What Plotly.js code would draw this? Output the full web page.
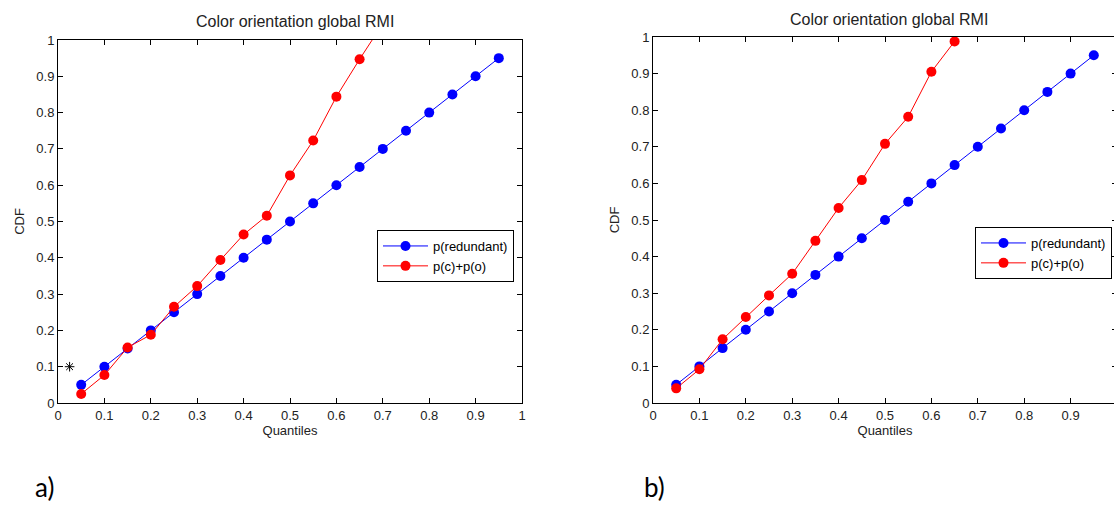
<!DOCTYPE html>
<html>
<head>
<meta charset="utf-8">
<script src="https://cdn.plot.ly/plotly-3.0.1.min.js"></script>
<style>
html,body{margin:0;padding:0;overflow:hidden;background:#fff;width:1114px;height:505px;}
#chart{width:1118px;height:505px;}
</style>
</head>
<body>
<div id="chart"></div>
<script>
// Quantiles
const quantiles = [0.05,0.1,0.15,0.2,0.25,0.3,0.35,0.4,0.45,0.5,0.55,0.6,0.65,0.7,0.75,0.8,0.85,0.9,0.95];
// p(redundant) for both panels
const redundantA = [0.05,0.1,0.15,0.2,0.25,0.3,0.35,0.4,0.45,0.5,0.55,0.6,0.65,0.7,0.75,0.8,0.85,0.9,0.95];
const redundantB = [0.05,0.1,0.15,0.2,0.25,0.3,0.35,0.4,0.45,0.5,0.55,0.6,0.65,0.7,0.75,0.8,0.85,0.9,0.95];
// p(c)+p(o)
const coQuantA = [0.05,0.1,0.15,0.2,0.25,0.3,0.35,0.4,0.45,0.5,0.55,0.6,0.65,0.7];
const coA = [0.025,0.077,0.153,0.188,0.265,0.322,0.394,0.464,0.516,0.627,0.723,0.844,0.947,1.045];
const coQuantB = [0.05,0.1,0.15,0.2,0.25,0.3,0.35,0.4,0.45,0.5,0.55,0.6,0.65];
const coB = [0.04,0.092,0.174,0.235,0.294,0.353,0.443,0.533,0.609,0.708,0.782,0.905,0.988];
// stray star marker in panel a
const starX = [0.025];
const starY = [0.1];
const tickVals = [0,0.1,0.2,0.3,0.4,0.5,0.6,0.7,0.8,0.9,1];
const tickText = ['0','0.1','0.2','0.3','0.4','0.5','0.6','0.7','0.8','0.9','1'];

const W = 1118, H = 505;
const FONT = 'Liberation Sans, Arial, sans-serif';
const BLUE = '#0000ff', RED = '#ff0000';

function tr(x, y, color, name, xa, ya, leg, showleg){
  return {x:x, y:y, type:'scatter', mode:'lines+markers', name:name,
    xaxis:xa, yaxis:ya, legend:leg, showlegend:showleg,
    line:{color:color, width:1},
    marker:{color:color, size:10, symbol:'circle'}};
}

const data = [
  tr(quantiles, redundantA, BLUE, 'p(redundant)', 'x', 'y', 'legend', true),
  tr(coQuantA, coA, RED, 'p(c)+p(o)', 'x', 'y', 'legend', true),
  {x:starX, y:starY, type:'scatter', mode:'markers', xaxis:'x', yaxis:'y', showlegend:false,
   marker:{symbol:'asterisk-open', size:8, color:'#000', line:{color:'#000', width:1}}},
  tr(quantiles, redundantB, BLUE, 'p(redundant)', 'x2', 'y2', 'legend2', true),
  tr(coQuantB, coB, RED, 'p(c)+p(o)', 'x2', 'y2', 'legend2', true)
];

function xax(dom, anchor){
  return {domain:dom, anchor:anchor, range:[0,1], tickvals:tickVals, ticktext:tickText,
    ticks:'inside', ticklen:5, tickcolor:'#000', showline:true, linecolor:'#000', linewidth:1,
    mirror:'ticks', showgrid:false, zeroline:false, tickfont:{family:FONT, size:13, color:'#222'},
    title:{text:'Quantiles', font:{family:FONT, size:13, color:'#222'}, standoff:3}, fixedrange:true};
}
function yax(dom, anchor){
  return {domain:dom, anchor:anchor, range:[0,1], tickvals:tickVals, ticktext:tickText,
    ticks:'inside', ticklen:5, tickcolor:'#000', showline:true, linecolor:'#000', linewidth:1,
    mirror:'ticks', showgrid:false, zeroline:false, tickfont:{family:FONT, size:13, color:'#222'},
    title:{text:'CDF', font:{family:FONT, size:13, color:'#222'}, standoff:8}, fixedrange:true};
}

const layout = {
  width:W, height:H, margin:{l:0,r:0,t:0,b:0}, paper_bgcolor:'#fff', plot_bgcolor:'#fff',
  font:{family:FONT, size:13, color:'#222'},
  xaxis: xax([58/W, 522/W], 'y'),
  yaxis: yax([1-403/H, 1-40/H], 'x'),
  xaxis2: xax([653/W, 1117/W], 'y2'),
  yaxis2: yax([1-403/H, 1-37/H], 'x2'),
  legend:{x:514/W, xanchor:'right', y:1-230/H, yanchor:'top', bgcolor:'#fff',
    bordercolor:'#000', borderwidth:1, font:{family:FONT, size:13, color:'#000'},
    tracegroupgap:0, itemclick:false, itemwidth:45},
  legend2:{x:1112/W, xanchor:'right', y:1-227/H, yanchor:'top', bgcolor:'#fff',
    bordercolor:'#000', borderwidth:1, font:{family:FONT, size:13, color:'#000'},
    tracegroupgap:0, itemclick:false, itemwidth:45},
  annotations:[
    {text:'Color orientation global RMI', xref:'paper', yref:'paper', x:295/W, y:1-21/H,
     xanchor:'center', yanchor:'middle', showarrow:false, font:{family:FONT, size:16, color:'#222'}},
    {text:'Color orientation global RMI', xref:'paper', yref:'paper', x:889/W, y:1-19/H,
     xanchor:'center', yanchor:'middle', showarrow:false, font:{family:FONT, size:16, color:'#222'}},
    {text:'a)', xref:'paper', yref:'paper', x:33/W, y:1-487/H, xanchor:'left', yanchor:'middle',
     showarrow:false, font:{family:'Lato, Open Sans, sans-serif', size:26, color:'#000'}},
    {text:'b)', xref:'paper', yref:'paper', x:642/W, y:1-487/H, xanchor:'left', yanchor:'middle',
     showarrow:false, font:{family:'Lato, Open Sans, sans-serif', size:26, color:'#000'}}
  ]
};

Plotly.newPlot('chart', data, layout, {staticPlot:true, displayModeBar:false});
</script>
</body>
</html>
